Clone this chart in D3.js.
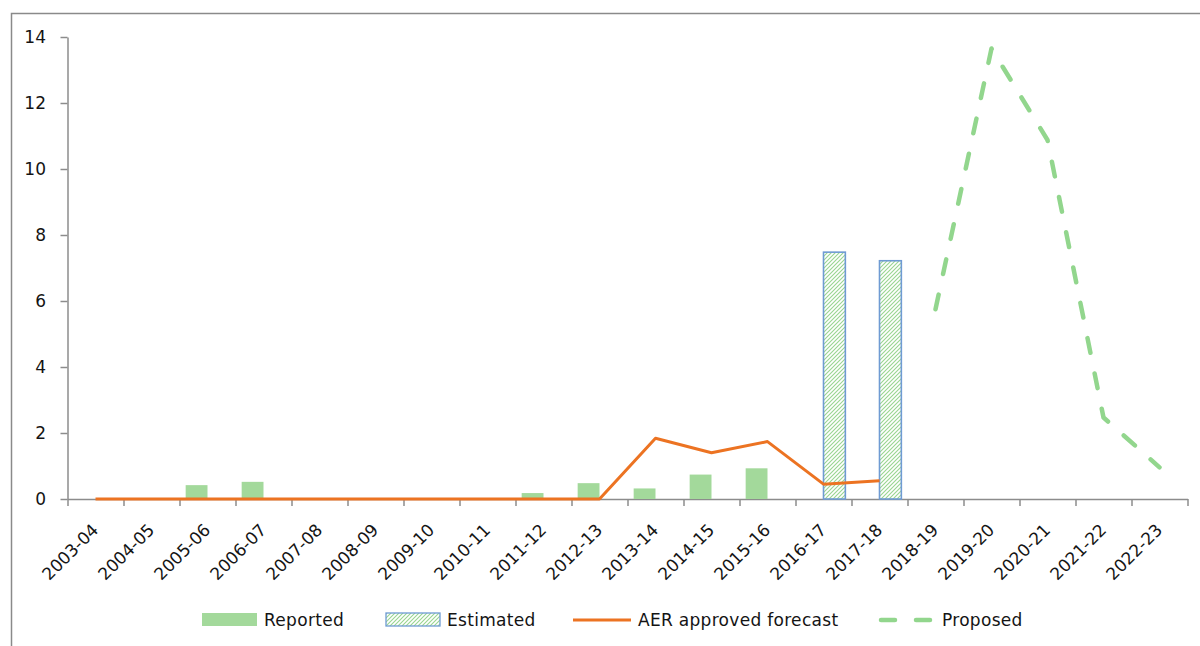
<!DOCTYPE html>
<html>
<head>
<meta charset="utf-8">
<script src="https://cdn.jsdelivr.net/npm/d3@7"></script>
<style>
  html, body { margin: 0; padding: 0; background: #fff; }
  svg { display: block; }
  text { font-family: "DejaVu Sans", Verdana, sans-serif; fill: #141414; }
</style>
</head>
<body>
<svg id="chart" width="1200" height="646"></svg>
<script>
const categories = ["2003-04","2004-05","2005-06","2006-07","2007-08","2008-09","2009-10","2010-11","2011-12","2012-13",
  "2013-14","2014-15","2015-16","2016-17","2017-18","2018-19","2019-20","2020-21","2021-22","2022-23"];
const reported  = [null,null,0.42,0.52,null,null,null,null,0.18,0.48,0.32,0.74,0.93,null,null,null,null,null,null,null];
const estimated = [null,null,null,null,null,null,null,null,null,null,null,null,null,7.48,7.22,null,null,null,null,null];
const aer       = [0,0,0,0,0,0,0,0,0,0,1.84,1.40,1.74,0.45,0.55,null,null,null,null,null];
const proposed  = [null,null,null,null,null,null,null,null,null,null,null,null,null,null,null,5.75,13.65,10.88,2.47,0.96];
const yTicks = [0,2,4,6,8,10,12,14];
const legendLabels = ["Reported","Estimated","AER approved forecast","Proposed"];

const svg = d3.select("#chart");
const W = 1200, H = 646;
const plot = {left: 67.5, right: 1187.5, top: 37, bottom: 499};

const colReported = "#a3d99b";
const colEstBorder = "#6f9bd3";
const colHatch = "#98d590";
const colAER = "#ec7322";
const colProposed = "#92d68d";
const colAxis = "#8c8c8c";

// pattern
const defs = svg.append("defs");
const pat = defs.append("pattern").attr("id","hatch").attr("patternUnits","userSpaceOnUse")
  .attr("width",4).attr("height",4);
pat.append("rect").attr("width",4).attr("height",4).attr("fill","#fff");
pat.append("path").attr("d","M-1,1 l2,-2 M0,4 l4,-4 M3,5 l2,-2")
  .attr("stroke",colHatch).attr("stroke-width",1.1);

// outer border
svg.append("rect").attr("x",11.5).attr("y",13.5).attr("width",W+20).attr("height",H+20)
  .attr("fill","none").attr("stroke","#8a8a8a").attr("stroke-width",1.5);

const x = d3.scaleBand().domain(categories).range([plot.left, plot.right]).padding(0);
const xIdx = d3.scaleLinear().domain([0, categories.length]).range([plot.left, plot.right]);
const y = d3.scaleLinear().domain([0,14]).range([plot.bottom, plot.top]);
const bw = x.bandwidth() * 0.39;
const cx = c => x(c) + x.bandwidth()/2;

// Y axis
const yAxis = svg.append("g").attr("transform",`translate(${plot.left},0)`)
  .call(d3.axisLeft(y).tickValues(yTicks).tickSize(7).tickSizeOuter(0).tickPadding(14.5));
yAxis.selectAll("path, line").attr("stroke",colAxis).attr("stroke-width",1.5);
yAxis.selectAll("text").attr("font-size",17).style("font-family","DejaVu Sans").attr("fill","#141414");

// X axis (boundary ticks)
const xAxis = svg.append("g").attr("transform",`translate(0,${plot.bottom})`)
  .call(d3.axisBottom(xIdx).tickValues(d3.range(categories.length+1)).tickSize(7).tickSizeOuter(0).tickFormat(""));
xAxis.selectAll("path, line").attr("stroke",colAxis).attr("stroke-width",1.5);

// X labels
svg.append("g").selectAll("text").data(categories).join("text")
  .attr("transform", d => `translate(${cx(d)+4},${plot.bottom+32}) rotate(-45)`)
  .attr("text-anchor","end")
  .attr("font-size",17)
  .text(d => d);

// Reported bars
svg.append("g").selectAll("rect").data(categories.map((c,i)=>({c, v: reported[i]})).filter(d=>d.v!=null))
  .join("rect")
  .attr("x", d => cx(d.c) - bw)
  .attr("width", bw)
  .attr("y", d => y(d.v))
  .attr("height", d => y(0) - y(d.v))
  .attr("fill", colReported);

// Estimated bars
svg.append("g").selectAll("rect").data(categories.map((c,i)=>({c, v: estimated[i]})).filter(d=>d.v!=null))
  .join("rect")
  .attr("x", d => cx(d.c))
  .attr("width", bw)
  .attr("y", d => y(d.v))
  .attr("height", d => y(0) - y(d.v))
  .attr("fill", "url(#hatch)")
  .attr("stroke", colEstBorder)
  .attr("stroke-width", 1.6);

// lines
const line = d3.line().defined(d => d.v != null).x(d => cx(d.c)).y(d => y(d.v));
svg.append("path")
  .datum(categories.map((c,i)=>({c, v: aer[i]})))
  .attr("d", line)
  .attr("fill","none").attr("stroke",colAER).attr("stroke-width",3)
  .attr("stroke-linejoin","round");

svg.append("path")
  .datum(categories.map((c,i)=>({c, v: proposed[i]})))
  .attr("d", line)
  .attr("fill","none").attr("stroke",colProposed).attr("stroke-width",4.5)
  .attr("stroke-dasharray","15 21").attr("stroke-linecap","round").attr("stroke-linejoin","round");

// Legend
const lg = svg.append("g");
const ly = 620;
const lfs = 17;
lg.append("rect").attr("x",202).attr("y",613).attr("width",55).attr("height",13).attr("fill",colReported);
lg.append("text").attr("x",264).attr("y",ly).attr("dy","0.36em").attr("font-size",lfs).attr("letter-spacing",0.3).text(legendLabels[0]);
lg.append("rect").attr("x",386).attr("y",613).attr("width",54).attr("height",13)
  .attr("fill","url(#hatch)").attr("stroke",colEstBorder).attr("stroke-width",1.3);
lg.append("text").attr("x",447).attr("y",ly).attr("dy","0.36em").attr("font-size",lfs).attr("letter-spacing",0.3).text(legendLabels[1]);
lg.append("line").attr("x1",573).attr("x2",631).attr("y1",ly).attr("y2",ly)
  .attr("stroke",colAER).attr("stroke-width",3);
lg.append("text").attr("x",638).attr("y",ly).attr("dy","0.36em").attr("font-size",lfs).attr("letter-spacing",0.3).text(legendLabels[2]);
lg.append("line").attr("x1",881).attr("x2",933).attr("y1",ly).attr("y2",ly)
  .attr("stroke",colProposed).attr("stroke-width",4.5)
  .attr("stroke-dasharray","14 21").attr("stroke-linecap","round");
lg.append("text").attr("x",942).attr("y",ly).attr("dy","0.36em").attr("font-size",lfs).attr("letter-spacing",0.3).text(legendLabels[3]);
</script>
</body>
</html>
